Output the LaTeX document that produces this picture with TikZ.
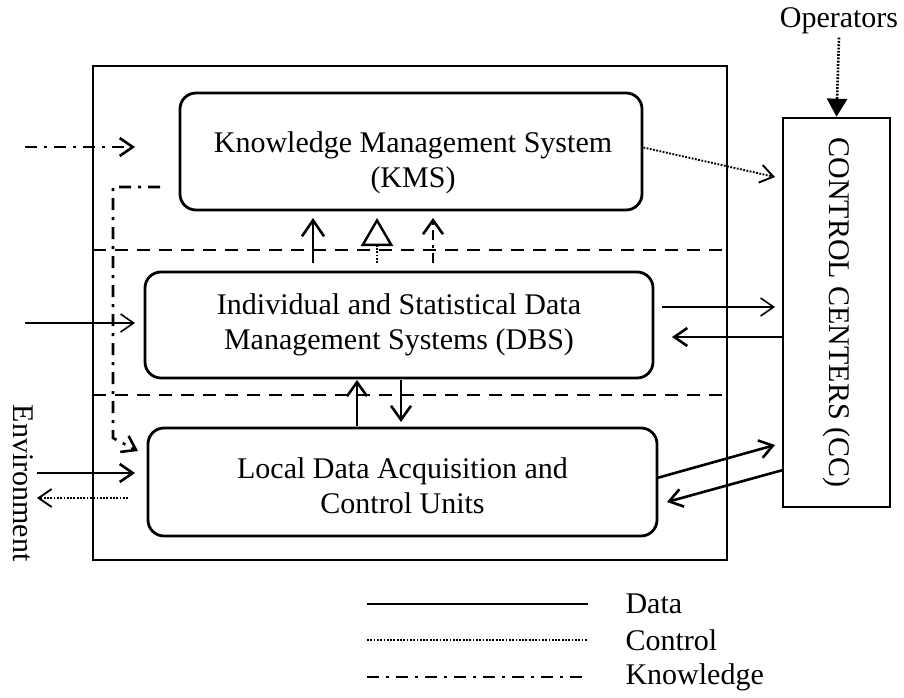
\documentclass[tikz,border=0pt]{standalone}
\usepackage{fontspec}
\setmainfont{Liberation Serif}
\usetikzlibrary{arrows.meta}
\begin{document}
\begin{tikzpicture}[x=1pt,y=-1pt,
  every node/.style={font=\fontsize{30}{35}\selectfont},
  rbox/.style={draw, line width=2.8pt, rounded corners=16pt, align=center, inner sep=0pt},
  pbox/.style={draw, line width=2.6pt, inner sep=0pt},
  btext/.style={align=center, inner sep=0pt},
  barb/.style={-{Straight Barb[length=13pt,width=18pt]}},
  datal/.style={line width=2.6pt},
  datathin/.style={line width=1.6pt},
  ctrl/.style={line width=1.9pt, dash pattern=on 1.8pt off 1.5pt},
  know/.style={line width=2.6pt, dash pattern=on 12pt off 7pt on 3pt off 7pt},
  sep/.style={line width=2.4pt, dash pattern=on 13pt off 9pt}]
\useasboundingbox (0,0) rectangle (904,698);
% frame and boxes
\node[pbox, minimum width=634pt, minimum height=494pt] (frame) at (410,313) {};
\node[rbox, minimum width=462pt, minimum height=117pt] (kms) at (411,151.5) {};
\node[btext] (kmstext) at (413,163) {Knowledge Management System\\(KMS)};
\node[rbox, minimum width=508pt, minimum height=106pt] (dbs) at (399,325)
  {Individual and Statistical Data\\Management Systems (DBS)};
\node[rbox, minimum width=509pt, minimum height=108pt] (lda) at (402.5,482) {};
\node[btext] (ldatext) at (402.5,486) {Local Data Acquisition and\\Control Units};
\node[pbox, minimum width=107pt, minimum height=389pt] (cc) at (836.5,312.5) {};
\node[rotate=-90] (cctext) at (cc.center) {CONTROL CENTERS (CC)};
\node (ops) at (839,21) {Operators};
\node[rotate=-90] (env) at (23,483) {Environment};
% separators
\coordinate (s1a) at (93,250); \coordinate (s1b) at (723,250);
\coordinate (s2a) at (93,395); \coordinate (s2b) at (723,395);
\draw[sep] (s1a) -- (s1b);
\draw[sep] (s2a) -- (s2b);
% operators
\draw[ctrl, line width=2.6pt, -{Triangle[length=18pt,width=20pt]}] (ops.south) -- (cc.north);
% KMS -> CC
\coordinate (c1) at (775,177);
\draw[ctrl, barb] ([yshift=4pt]kms.east) -- (c1);
% DBS <-> CC
\coordinate (d1) at (662,307); \coordinate (d1e) at (775,307);
\draw[datathin, barb] (d1) -- (d1e);
\coordinate (d2) at (672,337);
\draw[datal, barb] (cc.west |- d2) -- (d2);
% LDA <-> CC
\coordinate (l1) at (657,478); \coordinate (l1e) at (775,445);
\draw[datal, barb] (l1) -- (l1e);
\coordinate (l2) at (783,470); \coordinate (l2e) at (667,502);
\draw[datal, barb] (l2) -- (l2e);
% KMS <- DBS
\coordinate (u1a) at (313,263); \coordinate (u1b) at (313,218);
\draw[datal, -{Straight Barb[length=16pt,width=22pt]}] (u1a) -- (u1b);
\coordinate (u2a) at (377,263); \coordinate (u2b) at (377,218);
\draw[ctrl, -{Triangle[open,length=28pt,width=32pt,line width=2.4pt]}] (u2a) -- (u2b);
\coordinate (u3a) at (433,263); \coordinate (u3b) at (433,218);
\draw[know, dash pattern=on 10pt off 5pt on 3pt off 5pt, -{Straight Barb[length=14pt,width=20pt]}] (u3a) -- (u3b);
% DBS <-> LDA
\coordinate (v1a) at (357,426); \coordinate (v1b) at (357,380);
\draw[datal, -{Straight Barb[length=14pt,width=20pt]}] (v1a) -- (v1b);
\coordinate (v2a) at (401,380); \coordinate (v2b) at (401,422);
\draw[datal, -{Straight Barb[length=14pt,width=20pt]}] (v2a) -- (v2b);
% left side inputs
\coordinate (k0) at (25,147); \coordinate (k0e) at (135,147);
\draw[know, barb] (k0) -- (k0e);
\coordinate (i0) at (25,323); \coordinate (i0e) at (135,323);
\draw[datathin, barb] (i0) -- (i0e);
\coordinate (kv1) at (160,187); \coordinate (kv2) at (113,187);
\coordinate (kv3) at (113,438); \coordinate (kv4) at (138,451);
\draw[know, barb] (kv1) -- (kv2) -- (kv3) -- (kv4);
\coordinate (e1) at (37,473); \coordinate (e1e) at (135,473);
\draw[datal, barb] (e1) -- (e1e);
\coordinate (e2) at (128,498); \coordinate (e2e) at (37,498);
\draw[ctrl, barb] (e2) -- (e2e);
% legend
\coordinate (ga) at (367,604); \coordinate (gb) at (588,604);
\coordinate (ha) at (367,640); \coordinate (hb) at (588,640);
\coordinate (ja) at (367,677); \coordinate (jb) at (588,677);
\draw[datal] (ga) -- (gb);
\draw[ctrl] (ha) -- (hb);
\draw[know] (ja) -- (jb);
\node[anchor=west] (lg1) at (622,604) {Data};
\node[anchor=west] (lg2) at (622,640) {Control};
\node[anchor=west] (lg3) at (622,677) {Knowledge};
\end{tikzpicture}
\end{document}
